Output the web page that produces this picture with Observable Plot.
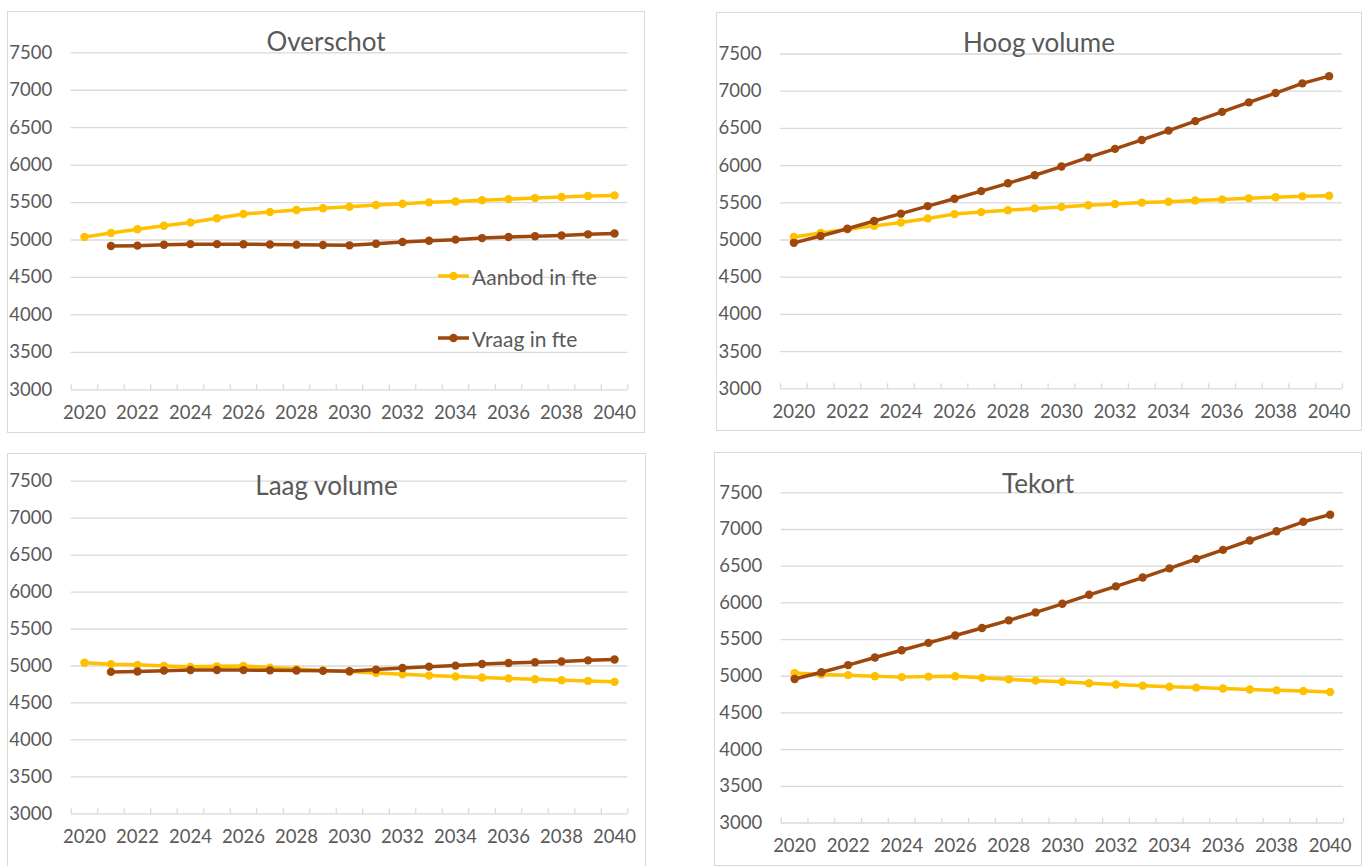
<!DOCTYPE html>
<html><head><meta charset="utf-8">
<script src="https://cdn.jsdelivr.net/npm/d3@7"></script>
<script src="https://cdn.jsdelivr.net/npm/@observablehq/plot@0.6"></script>
<style>
html,body{margin:0;padding:0;background:#fff;}
body{width:1362px;height:866px;overflow:hidden;position:relative;font-family:Lato,"Open Sans",sans-serif;}
.box{position:absolute;border:1px solid #d9d9d9;box-sizing:border-box;}
.title{position:absolute;color:#595959;font-size:26px;text-align:center;line-height:26px;height:26px;white-space:nowrap;}
.plot{position:absolute;}
.legend{position:absolute;display:flex;align-items:center;color:#595959;font-size:21px;line-height:21px;white-space:nowrap;}
.legend svg{margin-right:3px;}
</style></head><body>
<script>
// ---- data ----
const years = [2020,2021,2022,2023,2024,2025,2026,2027,2028,2029,2030,2031,2032,2033,2034,2035,2036,2037,2038,2039,2040];
const aanbodHoog = [5040,5095,5143,5190,5235,5290,5348,5375,5400,5425,5445,5467,5485,5503,5515,5532,5546,5560,5575,5587,5596];
const aanbodLaag = [5043,5025,5015,5000,4988,4995,5000,4978,4958,4940,4924,4905,4887,4870,4857,4845,4832,4820,4808,4798,4785];
const vraagHoog = [4962,5054,5152,5255,5354,5455,5555,5657,5762,5870,5987,6110,6225,6345,6470,6598,6722,6850,6975,7105,7202];
const vraagLaag = [null,4920,4925,4937,4945,4945,4944,4941,4938,4934,4929,4951,4973,4991,5005,5026,5040,5050,5060,5076,5087];
const yTicks = [3000,3500,4000,4500,5000,5500,6000,6500,7000,7500];
const xLabels = [2020,2022,2024,2026,2028,2030,2032,2034,2036,2038,2040];
const seriesNames = ["Aanbod in fte","Vraag in fte"];
const titles = ["Overschot","Hoog volume","Laag volume","Tekort"];

// ---- styles ----
const colAanbod = "#FFC000", colVraag = "#9E480E";
const textCol = "#595959", gridCol = "#d9d9d9";

// ---- layout (pixels) ----
const layout = [
  {box:[7,11,645,433],  plot:[70.7,627.3,52.3,389.3], titleY:41},
  {box:[716,12,1362,431],plot:[780,1342,53.5,388.3],  titleY:42},
  {box:[7,453,646,872], plot:[70.7,627.3,480.7,813.3], titleY:485},
  {box:[714,452,1362,866],plot:[780.7,1343,492.3,822.5],titleY:483}
];
const panelData = [
  [aanbodHoog, vraagLaag],
  [aanbodHoog, vraagHoog],
  [aanbodLaag, vraagLaag],
  [aanbodLaag, vraagHoog]
];

const toRows = (vals) => years.map((y,i)=>({year:y, value:vals[i]})).filter(d=>d.value!=null);
const bounds = years.map(y=>y-0.5).concat([years[years.length-1]+0.5]);

layout.forEach((lay, k) => {
  const [L,T,R,B] = lay.box;
  const [x0,x1,yTop,yBot] = lay.plot;
  const W = R-L, H = B-T;
  const box = document.createElement("div");
  box.className = "box";
  Object.assign(box.style,{left:L+"px",top:T+"px",width:W+"px",height:H+"px"});
  document.body.appendChild(box);

  const a = toRows(panelData[k][0]), v = toRows(panelData[k][1]);
  const chart = Plot.plot({
    width: W, height: H,
    marginLeft: x0-L, marginRight: L+W-x1, marginTop: yTop-T, marginBottom: T+H-yBot,
    x: {domain:[bounds[0], bounds[bounds.length-1]], axis:null},
    y: {domain:[3000,7500], axis:null},
    style: {fontFamily:'Lato,"Open Sans",sans-serif', fontSize:"18.5px", color:textCol, background:"transparent", overflow:"visible"},
    marks: [
      Plot.ruleY(yTicks, {y:d=>d, stroke:gridCol, strokeWidth:1.3}),
      Plot.tickX(bounds, {x:d=>d, stroke:gridCol, strokeWidth:1.3, insetTop:(yBot-yTop)-5}),
      Plot.text(yTicks, {y:d=>d, text:d=>String(d), frameAnchor:"left", dx:-19, textAnchor:"end", fill:textCol}),
      Plot.text(xLabels, {x:d=>d, text:d=>String(d), frameAnchor:"bottom", dy:29, fill:textCol}),
      Plot.line(a, {x:"year", y:"value", stroke:colAanbod, strokeWidth:3.5}),
      Plot.dot(a, {x:"year", y:"value", r:4.2, fill:colAanbod, stroke:null}),
      Plot.line(v, {x:"year", y:"value", stroke:colVraag, strokeWidth:3.5}),
      Plot.dot(v, {x:"year", y:"value", r:4.2, fill:colVraag, stroke:null})
    ]
  });
  chart.classList.add("plot");
  Object.assign(chart.style,{left:L+"px",top:T+"px"});
  document.body.appendChild(chart);

  const t = document.createElement("div");
  t.className = "title";
  t.textContent = titles[k];
  Object.assign(t.style,{left:L+"px",width:W+"px",top:(lay.titleY-13)+"px"});
  document.body.appendChild(t);
});

// legend in first panel
const legendPos = [{x:438,y:276,col:colAanbod},{x:438,y:338.3,col:colVraag}];
legendPos.forEach((p,i)=>{
  const d = document.createElement("div");
  d.className = "legend";
  Object.assign(d.style,{left:p.x+"px",top:(p.y-12)+"px",height:"24px"});
  d.innerHTML = `<svg width="31" height="12"><line x1="0" x2="31" y1="6" y2="6" stroke="${p.col}" stroke-width="3.5"/><circle cx="15.5" cy="6" r="4.2" fill="${p.col}"/></svg><span>${seriesNames[i]}</span>`;
  document.body.appendChild(d);
});
</script>
</body></html>
